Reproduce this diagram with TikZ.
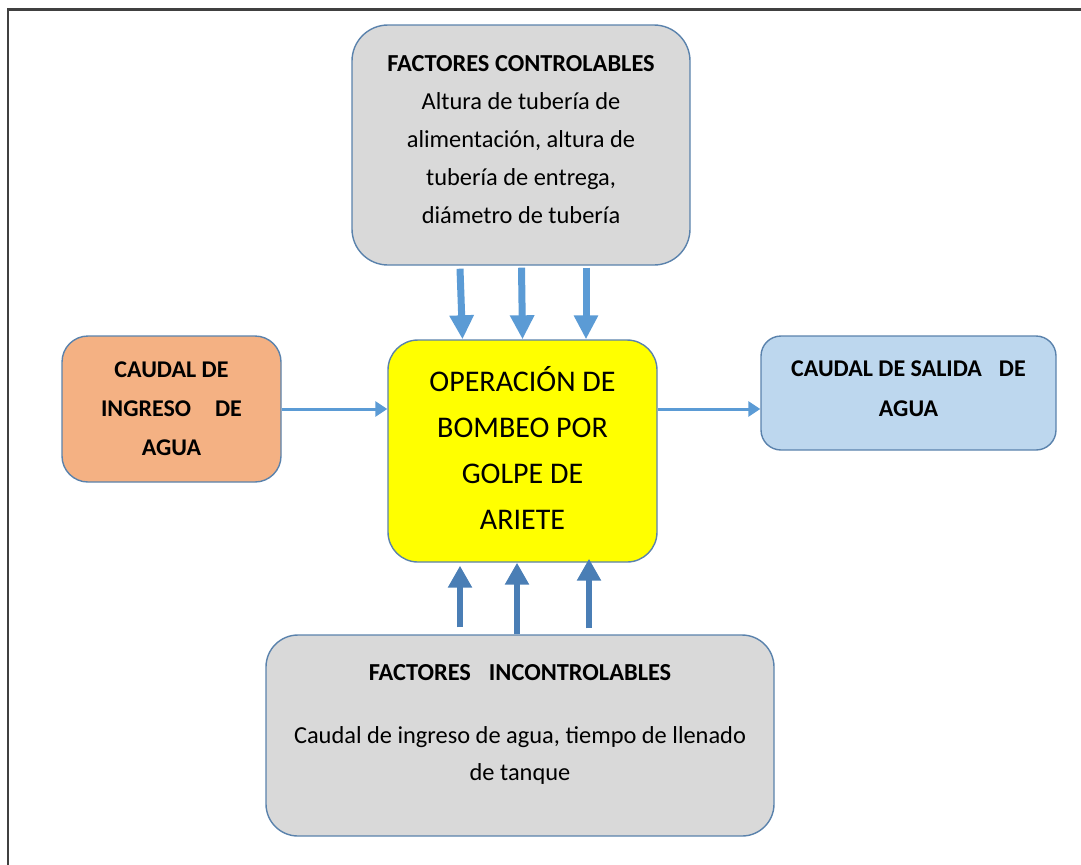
\documentclass[tikz,border=0pt]{standalone}
\usepackage{fontspec}
\setmainfont{Carlito}
\usetikzlibrary{arrows.meta}
\definecolor{BoxGray}{HTML}{D9D9D9}
\definecolor{BoxOrange}{HTML}{F4B183}
\definecolor{BoxBlue}{HTML}{BDD7EE}
\definecolor{BoxYellow}{HTML}{FFFF00}
\definecolor{BoxLine}{HTML}{5A82AC}
\definecolor{FlowLight}{HTML}{5B9BD5}
\definecolor{FlowDark}{HTML}{4A7EB5}
\definecolor{FrameGray}{HTML}{404040}

\begin{document}
\begin{tikzpicture}[x=0.5pt, y=-0.5pt,
    box/.style={rectangle, draw=BoxLine, line width=0.7pt, inner sep=0pt},
    downflow/.style={draw=FlowLight, line width=3.5pt, -{Triangle[width=11.5pt, length=12pt]}},
    upflow/.style={draw=FlowDark, line width=3pt, -{Triangle[width=11.5pt, length=11pt]}},
    sideflow/.style={draw=FlowLight, line width=1.5pt, -{Triangle[width=7.5pt, length=6pt]}}]
  \useasboundingbox (0,0) rectangle (1081,864);
  \draw[FrameGray, line width=1.3pt] (8,9.5) rectangle (1100,880);

  \node (ctrl) [box, fill=BoxGray, rounded corners=18pt, minimum width=169pt, minimum height=120pt] at (521, 145) {
    \fontsize{12.2}{19}\selectfont
    \begin{tabular}{c}
      \textbf{FACTORES CONTROLABLES} \\
      Altura de tubería de \\
      alimentación, altura de \\
      tubería de entrega, \\
      diámetro de tubería \\[5pt]
    \end{tabular}
  };
  \node (ingreso) [box, fill=BoxOrange, rounded corners=13pt, minimum width=109.5pt, minimum height=73pt] at (171.5, 409) {
    \fontsize{12}{19.5}\selectfont\bfseries
    \begin{tabular}{c}
      CAUDAL DE \\
      INGRESO\hspace{12pt}DE \\
      AGUA
    \end{tabular}
  };
  \node (op) [box, fill=BoxYellow, rounded corners=15pt, minimum width=134.5pt, minimum height=111pt] at (522.5, 451) {
    \fontsize{15}{23}\selectfont
    \begin{tabular}{c}
      OPERACIÓN DE \\
      BOMBEO POR \\
      GOLPE DE \\
      ARIETE
    \end{tabular}
  };
  \node (salida) [box, fill=BoxBlue, rounded corners=10pt, minimum width=147.5pt, minimum height=57pt] at (908.5, 393) {
    \fontsize{12}{20}\selectfont\bfseries
    \begin{tabular}{c}
      CAUDAL DE SALIDA\hspace{8.5pt}DE \\
      AGUA \\[5pt]
    \end{tabular}
  };
  \node (incontrol) [box, fill=BoxGray, rounded corners=16pt, minimum width=254pt, minimum height=100.5pt] at (520, 735.5) {
    \fontsize{12.2}{18.5}\selectfont
    \begin{tabular}{c}
      \textbf{FACTORES\hspace{9pt}INCONTROLABLES} \\[13pt]
      Caudal de ingreso de agua, tiempo de llenado \\
      de tanque \\[12.5pt]
    \end{tabular}
  };

  % controllable factors
  \draw[downflow] ([xshift=-30.5pt, yshift=-1.5pt]ctrl.south) to ([xshift=-30pt]op.north);
  \draw[downflow] ([xshift=0.25pt, yshift=-1pt]ctrl.south) to (op.north);
  \draw[downflow] ([xshift=32.5pt, yshift=-1pt]ctrl.south) to ([xshift=31.75pt]op.north);

  % uncontrollable factors
  \draw[upflow] ([xshift=-30pt, yshift=3.5pt]incontrol.north) to ([xshift=-31.25pt, yshift=-1.5pt]op.south);
  \draw[upflow] ([xshift=-1.5pt]incontrol.north) to ([xshift=-2.75pt]op.south);
  \draw[upflow] ([xshift=34.5pt, yshift=3pt]incontrol.north) to ([xshift=33.25pt, yshift=2pt]op.south);

  % water in / out
  \draw[sideflow] (ingreso.east) to (ingreso.east -| op.west);
  \draw[sideflow] ([yshift=21pt]op.east) to ([yshift=21pt]op.east -| salida.west);
\end{tikzpicture}
\end{document}
